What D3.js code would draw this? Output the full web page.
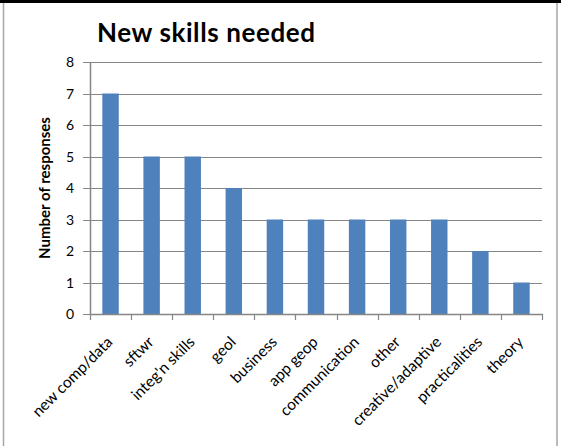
<!DOCTYPE html>
<html>
<head>
<meta charset="utf-8">
<script src="https://cdn.jsdelivr.net/npm/d3@7"></script>
<style>
  html, body { margin: 0; padding: 0; background: #fff; }
  svg { display: block; }
</style>
</head>
<body>
<svg id="chart" width="561" height="446"></svg>
<script>
const categories = ["new comp/data", "sftwr", "integ'n skills", "geol", "business", "app geop",
                    "communication", "other", "creative/adaptive", "practicalities", "theory"];
const responses = [7, 5, 5, 4, 3, 3, 3, 3, 3, 2, 1];
const yTicks = [0, 1, 2, 3, 4, 5, 6, 7, 8];
const chartTitle = "New skills needed";
const yTitle = "Number of responses";

const svg = d3.select("#chart");
const font = "Lato, 'Open Sans', sans-serif";
const gridColor = "#868686";

// frame
svg.append("rect").attr("x", 3.5).attr("y", 1).attr("width", 553.5).attr("height", 460)
  .attr("fill", "#fff").attr("stroke", "#a6a6a6").attr("stroke-width", 1.5);
svg.append("rect").attr("x", 0).attr("y", 0).attr("width", 561).attr("height", 3).attr("fill", "#000");

const plotLeft = 90, plotRight = 542, plotTop = 62, plotBottom = 314;

const x = d3.scaleBand().domain(categories).range([plotLeft, plotRight]).paddingInner(0.6).paddingOuter(0.3);
const y = d3.scaleLinear().domain([0, 8]).range([plotBottom, plotTop]);

// gridlines + y ticks
svg.append("g").selectAll("line").data(yTicks).join("line")
  .attr("x1", plotLeft - 7).attr("x2", plotRight)
  .attr("y1", d => Math.round(y(d)) + 0.5).attr("y2", d => Math.round(y(d)) + 0.5)
  .attr("stroke", gridColor).attr("stroke-width", 1);

svg.append("g").selectAll("text").data(yTicks).join("text")
  .attr("x", plotLeft - 16).attr("y", d => y(d))
  .attr("dy", "0.36em")
  .attr("text-anchor", "end")
  .attr("font-family", font).attr("font-size", 14).attr("fill", "#000")
  .text(d => d);

// bars
svg.append("g").selectAll("rect").data(responses).join("rect")
  .attr("x", (d, i) => x(categories[i]))
  .attr("width", x.bandwidth())
  .attr("y", d => y(d))
  .attr("height", d => y(0) - y(d))
  .attr("fill", "#4f81bd");

// axes lines
svg.append("line").attr("x1", plotLeft + 0.5).attr("x2", plotLeft + 0.5).attr("y1", plotTop).attr("y2", plotBottom + 1)
  .attr("stroke", gridColor).attr("stroke-width", 1.5);
svg.append("line").attr("x1", plotLeft).attr("x2", plotRight + 1).attr("y1", plotBottom + 0.5).attr("y2", plotBottom + 0.5)
  .attr("stroke", gridColor).attr("stroke-width", 1.5);

// x tick marks at category boundaries
const step = x.step();
const bounds = d3.range(categories.length + 1).map(k => plotLeft + k * step);
svg.append("g").selectAll("line").data(bounds).join("line")
  .attr("x1", d => Math.round(d) + 0.5).attr("x2", d => Math.round(d) + 0.5)
  .attr("y1", plotBottom).attr("y2", plotBottom + 6)
  .attr("stroke", gridColor).attr("stroke-width", 1.2);

// x labels
svg.append("g").selectAll("text").data(categories).join("text")
  .attr("transform", d => `translate(${x(d) + x.bandwidth() / 2 + 3},${plotBottom + 29}) rotate(-45)`)
  .attr("text-anchor", "end")
  .attr("font-family", font).attr("font-size", 15.5).attr("fill", "#000")
  .text(d => d);

// title
svg.append("text").attr("x", 97).attr("y", 42)
  .attr("font-family", font).attr("font-size", 26).attr("font-weight", "bold").attr("fill", "#000")
  .attr("letter-spacing", 0.6)
  .text(chartTitle);

// y title
svg.append("text").attr("transform", `translate(50,${(plotTop + plotBottom) / 2}) rotate(-90)`)
  .attr("text-anchor", "middle")
  .attr("font-family", font).attr("font-size", 15).attr("font-weight", "bold").attr("fill", "#000")
  .text(yTitle);
</script>
</body>
</html>
